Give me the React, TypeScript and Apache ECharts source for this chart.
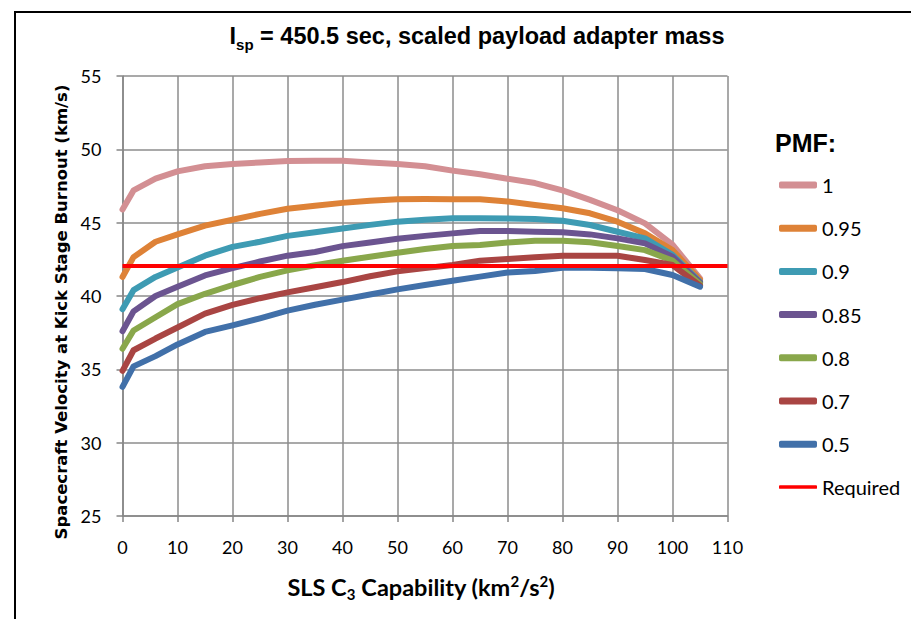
import React, { useEffect, useRef } from "react";
import * as echarts from "echarts";

const c3Values = [0, 2, 6, 10, 15, 20, 25, 30, 35, 40, 45, 50, 55, 60, 65, 70, 75, 80, 85, 90, 95, 100, 105];

const pmf100 = [45.9, 47.2, 48.0, 48.5, 48.85, 49.0, 49.1, 49.2, 49.22, 49.22, 49.1, 49.0, 48.85, 48.55, 48.3, 48.0, 47.7, 47.2, 46.55, 45.85, 44.95, 43.5, 41.2];
const pmf095 = [41.3, 42.65, 43.7, 44.2, 44.8, 45.2, 45.6, 45.95, 46.15, 46.35, 46.5, 46.6, 46.62, 46.6, 46.6, 46.45, 46.2, 45.98, 45.64, 45.07, 44.27, 43.13, 41.1];
const pmf090 = [39.1, 40.4, 41.3, 41.95, 42.75, 43.35, 43.7, 44.1, 44.35, 44.6, 44.85, 45.07, 45.2, 45.3, 45.3, 45.28, 45.25, 45.13, 44.84, 44.38, 43.93, 42.8, 40.97];
const pmf085 = [37.6, 38.95, 40.0, 40.63, 41.4, 41.9, 42.35, 42.75, 43.0, 43.4, 43.65, 43.9, 44.1, 44.27, 44.43, 44.43, 44.38, 44.34, 44.2, 43.93, 43.59, 42.68, 40.9];
const pmf080 = [36.4, 37.65, 38.55, 39.45, 40.15, 40.75, 41.3, 41.75, 42.1, 42.4, 42.68, 42.95, 43.2, 43.41, 43.48, 43.65, 43.77, 43.77, 43.66, 43.41, 43.13, 42.41, 40.82];
const pmf070 = [34.9, 36.3, 37.1, 37.85, 38.8, 39.4, 39.85, 40.25, 40.6, 40.95, 41.35, 41.68, 41.9, 42.11, 42.41, 42.52, 42.64, 42.75, 42.75, 42.75, 42.45, 42.11, 40.7];
const pmf050 = [33.8, 35.2, 35.9, 36.7, 37.55, 38.0, 38.48, 39.0, 39.4, 39.75, 40.1, 40.45, 40.75, 41.04, 41.32, 41.6, 41.7, 41.93, 41.93, 41.89, 41.84, 41.43, 40.63];

const requiredX = [0, 110];
const requiredValue = 42.05;

const seriesNames = ["1", "0.95", "0.9", "0.85", "0.8", "0.7", "0.5"];
const seriesValues = [pmf100, pmf095, pmf090, pmf085, pmf080, pmf070, pmf050];
const seriesColors = ["#D38F93", "#DE8237", "#3E9BB3", "#6B5490", "#89A74B", "#A94543", "#4170A9"];

const labelFont = "Lato, 'Open Sans', sans-serif";
const legendText = { color: "#000", fontSize: 20, fontFamily: labelFont, lineHeight: 20 };

export default function App() {
  const ref = useRef<HTMLDivElement>(null);
  useEffect(() => {
    if (!ref.current) return;
    const chart = echarts.init(ref.current, null, { renderer: "svg" });
    const lineSeries = seriesNames.map((name, k) => ({
      name,
      type: "line",
      symbol: "none",
      data: c3Values.map((x, i) => [x, seriesValues[k][i]]),
      lineStyle: { width: 6, color: seriesColors[k], cap: "round", join: "round" },
      itemStyle: { color: seriesColors[k] },
      z: 2 + k,
    }));
    const option = {
      animation: false,
      backgroundColor: "#ffffff",
      grid: { left: 122.5, right: 183.5, top: 76, bottom: 103, containLabel: false },
      xAxis: {
        type: "value",
        min: 0,
        max: 110,
        interval: 10,
        axisLine: { show: true, lineStyle: { color: "#868686", width: 1.5 } },
        axisTick: { show: true, length: 6, lineStyle: { color: "#868686", width: 1.5 } },
        splitLine: { show: true, lineStyle: { color: "#8c8c8c", width: 1.5 } },
        axisLabel: { color: "#000", fontSize: 18, fontFamily: labelFont, margin: 22 },
      },
      yAxis: {
        type: "value",
        min: 25,
        max: 55,
        interval: 5,
        axisLine: { show: true, lineStyle: { color: "#868686", width: 1.5 } },
        axisTick: { show: true, length: 6, lineStyle: { color: "#868686", width: 1.5 } },
        splitLine: { show: true, lineStyle: { color: "#8c8c8c", width: 1.5 } },
        axisLabel: { color: "#000", fontSize: 18, fontFamily: labelFont, margin: 21 },
      },
      legend: [
        {
          orient: "vertical",
          left: 774,
          top: 170,
          itemWidth: 38,
          itemHeight: 7,
          itemGap: 23.2,
          icon: "roundRect",
          data: seriesNames,
          textStyle: legendText,
        },
        {
          orient: "vertical",
          left: 774,
          top: 472,
          itemWidth: 38,
          itemHeight: 3.5,
          icon: "roundRect",
          data: ["Required"],
          textStyle: legendText,
        },
      ],
      series: [
        ...lineSeries,
        {
          name: "Required",
          type: "line",
          symbol: "none",
          data: requiredX.map((x) => [x, requiredValue]),
          lineStyle: { width: 4, color: "#FF0000" },
          itemStyle: { color: "#FF0000" },
          z: 20,
        },
      ],
      graphic: [
        {
          type: "rect",
          shape: { x: 15, y: 12, width: 1000, height: 1000 },
          style: { fill: "none", stroke: "#000", lineWidth: 2 },
          silent: true,
        },
        {
          type: "text",
          x: 477,
          y: 38,
          style: {
            text: "{a|I}{b|sp}{a| = 450.5 sec, scaled payload adapter mass}",
            align: "center",
            verticalAlign: "middle",
            rich: {
              a: { fontSize: 23.5, fontWeight: "bold", fontFamily: "'Liberation Sans', Arial, sans-serif", fill: "#000", lineHeight: 28, verticalAlign: "top" },
              b: { fontSize: 15, fontWeight: "bold", fontFamily: "'Liberation Sans', Arial, sans-serif", fill: "#000", lineHeight: 15, verticalAlign: "bottom" },
            },
          },
        },
        {
          type: "text",
          x: 61,
          y: 312,
          rotation: Math.PI / 2,
          style: {
            text: "Spacecraft Velocity at Kick Stage Burnout (km/s)",
            align: "center",
            verticalAlign: "middle",
            fontSize: 16.5,
            fontWeight: "bold",
            fontFamily: "'DejaVu Sans', Verdana, sans-serif",
            fill: "#000",
          },
        },
        {
          type: "text",
          x: 421,
          y: 587,
          style: {
            text: "{a|SLS C}{s|3}{a| Capability (km}{p|2}{a|/s}{p|2}{a|)}",
            align: "center",
            verticalAlign: "middle",
            rich: {
              a: { fontSize: 23.5, fontWeight: "bold", fontFamily: labelFont, fill: "#000", lineHeight: 28, verticalAlign: "middle" },
              s: { fontSize: 15, fontWeight: "bold", fontFamily: labelFont, fill: "#000", lineHeight: 15, verticalAlign: "bottom" },
              p: { fontSize: 15, fontWeight: "bold", fontFamily: labelFont, fill: "#000", lineHeight: 15, verticalAlign: "top" },
            },
          },
        },
        {
          type: "text",
          x: 775,
          y: 143,
          style: {
            text: "PMF:",
            align: "left",
            verticalAlign: "middle",
            fontSize: 25,
            fontWeight: "bold",
            fontFamily: "'Liberation Sans', Arial, sans-serif",
            fill: "#000",
          },
        },
      ],
    };
    chart.setOption(option as any);
    return () => chart.dispose();
  }, []);
  return (
    <div
      ref={ref}
      style={{ position: "fixed", left: 0, top: 0, width: 911, height: 619, background: "#fff" }}
    />
  );
}
